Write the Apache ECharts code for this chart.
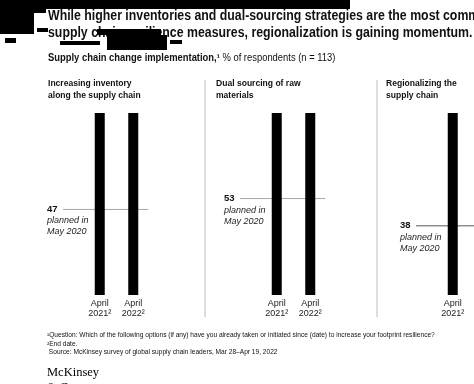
<!DOCTYPE html>
<html>
<head>
<meta charset="utf-8">
<script src="https://cdn.jsdelivr.net/npm/echarts@6/dist/echarts.min.js"></script>
<style>
  html, body { margin: 0; padding: 0; background: #fff; }
  #chart { width: 474px; height: 384px; }
</style>
</head>
<body>
<div id="chart"></div>
<script>
const FONT = '"Liberation Sans", Arial, sans-serif'

const categories = ['April\n2021²', 'April\n2022²']
const panelTitles = ['Increasing inventory\nalong the supply chain', 'Dual sourcing of raw\nmaterials', 'Regionalizing the\nsupply chain']
const inventoryValues = [100, 100]
const dualSourcingValues = [100, 100]
const regionalizingValues = [100, 100]
const plannedValues = [47, 53, 38]
const plannedLabel = 'planned in\nMay 2020'

const panelSeries = [inventoryValues, dualSourcingValues, regionalizingValues]
const gridLefts = [83, 260, 436]
const titleLefts = [48, 216, 386]
const lineColors = ['#a8a8a8', '#a8a8a8', '#555']

const chart = echarts.init(document.getElementById('chart'))

const txt = (text, x, y, extra, scaleX) => ({
  type: 'text', x, y, scaleX: scaleX || 1,
  style: Object.assign({ text, fill: '#111', font: `10px ${FONT}`, verticalAlign: 'middle' }, extra)
})

// black redaction blocks seen in the reference
const redactions = [
  [0, 0, 350, 9], [0, 9, 34, 25], [34, 9, 12, 4], [37, 28, 11, 4],
  [5, 38, 11, 5], [60, 41, 40, 4], [97, 29, 64, 6], [107, 35, 60, 15], [170, 40, 12, 4]
].map(r => ({ type: 'rect', shape: { x: r[0], y: r[1], width: r[2], height: r[3] }, style: { fill: '#000' } }))

const staticGraphics = [
  txt('While higher inventories and dual-sourcing strategies are the most common', 48, 16, { font: `bold 14px ${FONT}` }, 0.88),
  txt('supply chain resilience measures, regionalization is gaining momentum.', 48, 33, { font: `bold 14px ${FONT}` }, 0.88),
  ...redactions,
  {
    type: 'text', x: 48, y: 58, scaleX: 0.94,
    style: {
      text: '{b|Supply chain change implementation,¹} % of respondents (n = 113)',
      fill: '#111', font: `10px ${FONT}`, verticalAlign: 'middle',
      rich: { b: { fontWeight: 'bold', fontSize: 10, fontFamily: FONT, fill: '#111' } }
    }
  },
  ...panelTitles.map((t, i) => txt(t, titleLefts[i], 90, { font: `bold 9px ${FONT}`, lineHeight: 12 }, 0.95)),
  { type: 'line', shape: { x1: 205, y1: 80, x2: 205, y2: 317 }, style: { stroke: '#bbb', lineWidth: 1 } },
  { type: 'line', shape: { x1: 377, y1: 80, x2: 377, y2: 317 }, style: { stroke: '#bbb', lineWidth: 1 } },
  txt('¹Question: Which of the following options (if any) have you already taken or initiated since (date) to increase your footprint resilience?\n²End date.\n Source: McKinsey survey of global supply chain leaders, Mar 28–Apr 19, 2022',
    47, 344, { font: `6.6px ${FONT}`, lineHeight: 8.5 }),
  txt('McKinsey\n& Company', 47, 380, { font: `12.5px "Liberation Serif", serif`, lineHeight: 15, fill: '#000' })
]

const option = {
  animation: false,
  grid: gridLefts.map(left => ({ left, width: 67, top: 113, height: 182, outerBoundsMode: 'none' })),
  xAxis: gridLefts.map((_, i) => ({
    type: 'category',
    gridIndex: i,
    data: categories,
    axisLine: { show: false },
    axisTick: { show: false },
    axisLabel: { color: '#222', fontSize: 9, lineHeight: 10, margin: 4, fontFamily: FONT }
  })),
  yAxis: gridLefts.map((_, i) => ({
    type: 'value', gridIndex: i, min: 0, max: 100, show: false, splitLine: { show: false }
  })),
  series: panelSeries.map((data, i) => ({
    type: 'bar',
    xAxisIndex: i,
    yAxisIndex: i,
    barWidth: 10,
    itemStyle: { color: '#000' },
    data
  })),
  graphic: staticGraphics
}
chart.setOption(option)

// planned-in-2020 reference lines, placed with the chart's own scales
const plannedGraphics = []
plannedValues.forEach((v, i) => {
  const y = chart.convertToPixel({ yAxisIndex: i }, v)
  const xEnd = chart.convertToPixel({ xAxisIndex: i }, categories[1]) + 15
  const xLabel = gridLefts[i] - 36
  plannedGraphics.push(
    { type: 'line', shape: { x1: xLabel + 16, y1: y, x2: xEnd, y2: y }, style: { stroke: lineColors[i], lineWidth: 1 } },
    txt(String(v), xLabel, y, { font: `bold 9.5px ${FONT}` }),
    txt(plannedLabel, xLabel, y + 17, { font: `italic 9px ${FONT}`, lineHeight: 11, fill: '#222' })
  )
})
chart.setOption({ graphic: staticGraphics.concat(plannedGraphics) })
</script>
</body>
</html>
